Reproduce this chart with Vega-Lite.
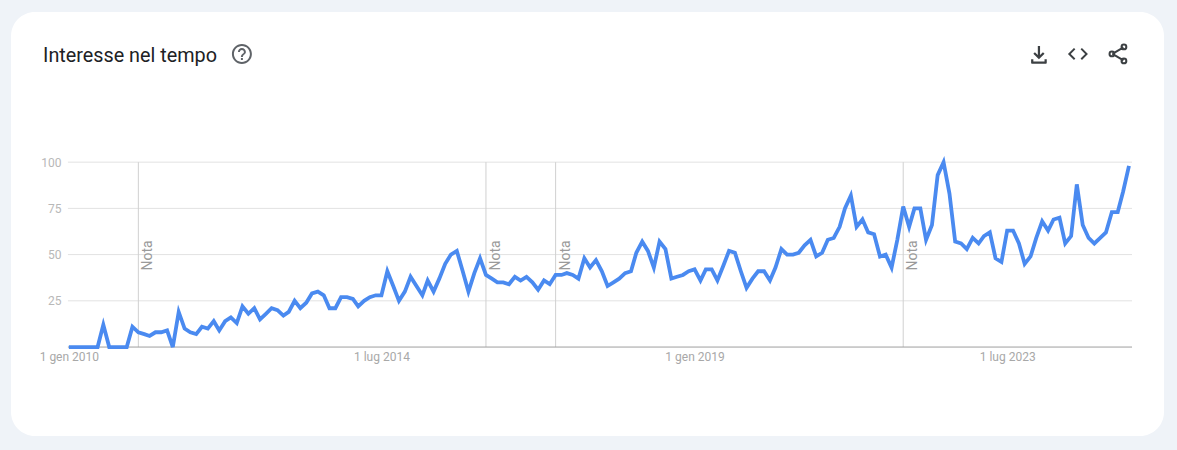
{"$schema":"https://vega.github.io/schema/vega-lite/v6.json","width":1153,"height":424,"padding":{"left":11,"top":12,"right":13,"bottom":14},"autosize":"none","background":"#eff3f8","config":{"view":{"fill":"#ffffff","stroke":null,"cornerRadius":24},"font":"Roboto","axis":{"title":null,"grid":false,"ticks":false,"domain":false,"labelFontSize":12,"labelFont":"Roboto","labelOverlap":false,"labelFlush":false,"labelBound":false},"axisX":{"labelPadding":-85,"labelColor":"#a8a8a8"},"axisY":{"labelPadding":-50,"labelColor":"#b8b8b8","labelAlign":"right"}},"title":{"text":"Interesse nel tempo","anchor":"start","frame":"group","offset":-54,"dx":32,"font":"Roboto","fontSize":19.8,"fontWeight":400,"color":"#202124"},"datasets":{"trend":[{"d":"2010-01-01","v":0},{"d":"2010-02-01","v":0},{"d":"2010-03-01","v":0},{"d":"2010-04-01","v":0},{"d":"2010-05-01","v":0},{"d":"2010-06-01","v":0},{"d":"2010-07-01","v":12},{"d":"2010-08-01","v":0},{"d":"2010-09-01","v":0},{"d":"2010-10-01","v":0},{"d":"2010-11-01","v":0},{"d":"2010-12-01","v":11},{"d":"2011-01-01","v":8},{"d":"2011-02-01","v":7},{"d":"2011-03-01","v":6},{"d":"2011-04-01","v":8},{"d":"2011-05-01","v":8},{"d":"2011-06-01","v":9},{"d":"2011-07-01","v":0},{"d":"2011-08-01","v":19},{"d":"2011-09-01","v":10},{"d":"2011-10-01","v":8},{"d":"2011-11-01","v":7},{"d":"2011-12-01","v":11},{"d":"2012-01-01","v":10},{"d":"2012-02-01","v":14},{"d":"2012-03-01","v":9},{"d":"2012-04-01","v":14},{"d":"2012-05-01","v":16},{"d":"2012-06-01","v":13},{"d":"2012-07-01","v":22},{"d":"2012-08-01","v":18},{"d":"2012-09-01","v":21},{"d":"2012-10-01","v":15},{"d":"2012-11-01","v":18},{"d":"2012-12-01","v":21},{"d":"2013-01-01","v":20},{"d":"2013-02-01","v":17},{"d":"2013-03-01","v":19},{"d":"2013-04-01","v":25},{"d":"2013-05-01","v":21},{"d":"2013-06-01","v":24},{"d":"2013-07-01","v":29},{"d":"2013-08-01","v":30},{"d":"2013-09-01","v":28},{"d":"2013-10-01","v":21},{"d":"2013-11-01","v":21},{"d":"2013-12-01","v":27},{"d":"2014-01-01","v":27},{"d":"2014-02-01","v":26},{"d":"2014-03-01","v":22},{"d":"2014-04-01","v":25},{"d":"2014-05-01","v":27},{"d":"2014-06-01","v":28},{"d":"2014-07-01","v":28},{"d":"2014-08-01","v":41},{"d":"2014-09-01","v":33},{"d":"2014-10-01","v":25},{"d":"2014-11-01","v":30},{"d":"2014-12-01","v":38},{"d":"2015-01-01","v":33},{"d":"2015-02-01","v":28},{"d":"2015-03-01","v":36},{"d":"2015-04-01","v":30},{"d":"2015-05-01","v":37},{"d":"2015-06-01","v":45},{"d":"2015-07-01","v":50},{"d":"2015-08-01","v":52},{"d":"2015-09-01","v":41},{"d":"2015-10-01","v":30},{"d":"2015-11-01","v":40},{"d":"2015-12-01","v":48},{"d":"2016-01-01","v":39},{"d":"2016-02-01","v":37},{"d":"2016-03-01","v":35},{"d":"2016-04-01","v":35},{"d":"2016-05-01","v":34},{"d":"2016-06-01","v":38},{"d":"2016-07-01","v":36},{"d":"2016-08-01","v":38},{"d":"2016-09-01","v":35},{"d":"2016-10-01","v":31},{"d":"2016-11-01","v":36},{"d":"2016-12-01","v":34},{"d":"2017-01-01","v":39},{"d":"2017-02-01","v":39},{"d":"2017-03-01","v":40},{"d":"2017-04-01","v":39},{"d":"2017-05-01","v":37},{"d":"2017-06-01","v":48},{"d":"2017-07-01","v":43},{"d":"2017-08-01","v":47},{"d":"2017-09-01","v":41},{"d":"2017-10-01","v":33},{"d":"2017-11-01","v":35},{"d":"2017-12-01","v":37},{"d":"2018-01-01","v":40},{"d":"2018-02-01","v":41},{"d":"2018-03-01","v":51},{"d":"2018-04-01","v":57},{"d":"2018-05-01","v":52},{"d":"2018-06-01","v":43},{"d":"2018-07-01","v":57},{"d":"2018-08-01","v":53},{"d":"2018-09-01","v":37},{"d":"2018-10-01","v":38},{"d":"2018-11-01","v":39},{"d":"2018-12-01","v":41},{"d":"2019-01-01","v":42},{"d":"2019-02-01","v":36},{"d":"2019-03-01","v":42},{"d":"2019-04-01","v":42},{"d":"2019-05-01","v":36},{"d":"2019-06-01","v":44},{"d":"2019-07-01","v":52},{"d":"2019-08-01","v":51},{"d":"2019-09-01","v":41},{"d":"2019-10-01","v":32},{"d":"2019-11-01","v":37},{"d":"2019-12-01","v":41},{"d":"2020-01-01","v":41},{"d":"2020-02-01","v":36},{"d":"2020-03-01","v":43},{"d":"2020-04-01","v":53},{"d":"2020-05-01","v":50},{"d":"2020-06-01","v":50},{"d":"2020-07-01","v":51},{"d":"2020-08-01","v":55},{"d":"2020-09-01","v":58},{"d":"2020-10-01","v":49},{"d":"2020-11-01","v":51},{"d":"2020-12-01","v":58},{"d":"2021-01-01","v":59},{"d":"2021-02-01","v":65},{"d":"2021-03-01","v":75},{"d":"2021-04-01","v":82},{"d":"2021-05-01","v":65},{"d":"2021-06-01","v":69},{"d":"2021-07-01","v":62},{"d":"2021-08-01","v":61},{"d":"2021-09-01","v":49},{"d":"2021-10-01","v":50},{"d":"2021-11-01","v":43},{"d":"2021-12-01","v":58},{"d":"2022-01-01","v":76},{"d":"2022-02-01","v":65},{"d":"2022-03-01","v":75},{"d":"2022-04-01","v":75},{"d":"2022-05-01","v":58},{"d":"2022-06-01","v":66},{"d":"2022-07-01","v":93},{"d":"2022-08-01","v":100},{"d":"2022-09-01","v":83},{"d":"2022-10-01","v":57},{"d":"2022-11-01","v":56},{"d":"2022-12-01","v":53},{"d":"2023-01-01","v":59},{"d":"2023-02-01","v":56},{"d":"2023-03-01","v":60},{"d":"2023-04-01","v":62},{"d":"2023-05-01","v":48},{"d":"2023-06-01","v":46},{"d":"2023-07-01","v":63},{"d":"2023-08-01","v":63},{"d":"2023-09-01","v":56},{"d":"2023-10-01","v":45},{"d":"2023-11-01","v":49},{"d":"2023-12-01","v":59},{"d":"2024-01-01","v":68},{"d":"2024-02-01","v":63},{"d":"2024-03-01","v":69},{"d":"2024-04-01","v":70},{"d":"2024-05-01","v":56},{"d":"2024-06-01","v":60},{"d":"2024-07-01","v":88},{"d":"2024-08-01","v":66},{"d":"2024-09-01","v":59},{"d":"2024-10-01","v":56},{"d":"2024-11-01","v":59},{"d":"2024-12-01","v":62},{"d":"2025-01-01","v":73},{"d":"2025-02-01","v":73},{"d":"2025-03-01","v":84},{"d":"2025-04-01","v":98}],"grid":[{"a":"2009-12-27","b":"2025-04-17","g":25},{"a":"2009-12-27","b":"2025-04-17","g":50},{"a":"2009-12-27","b":"2025-04-17","g":75},{"a":"2009-12-27","b":"2025-04-17","g":100}],"base":[{"a":"2009-12-27","b":"2025-04-17","g":0}],"notes":[{"d":"2011-01-01","y0":0,"y1":100,"t":41.4,"label":"Nota"},{"d":"2016-01-01","y0":0,"y1":100,"t":41.4,"label":"Nota"},{"d":"2017-01-01","y0":0,"y1":100,"t":41.4,"label":"Nota"},{"d":"2022-01-01","y0":0,"y1":100,"t":41.4,"label":"Nota"}]},"layer":[{"data":{"name":"grid"},"mark":{"type":"rule","color":"#e2e2e2","strokeWidth":1},"encoding":{"x":{"field":"a","type":"temporal","scale":{"type":"utc","domain":[{"year":2009,"month":3,"date":3,"utc":true},{"year":2025,"month":10,"date":2,"utc":true}]},"axis":{"values":[{"year":2010,"month":1,"date":1,"utc":true},{"year":2014,"month":7,"date":1,"utc":true},{"year":2019,"month":1,"date":1,"utc":true},{"year":2023,"month":7,"date":1,"utc":true}],"labelExpr":"'1 ' + (utcmonth(datum.value) == 0 ? 'gen' : 'lug') + ' ' + utcyear(datum.value)"}},"x2":{"field":"b"},"y":{"field":"g","type":"quantitative","scale":{"domain":[-48.1,181.2],"nice":false,"zero":false},"axis":{"values":[25,50,75,100]}}}},{"data":{"name":"notes"},"mark":{"type":"rule","color":"#d0d0d0","strokeWidth":1},"encoding":{"x":{"field":"d","type":"temporal"},"y":{"field":"y0","type":"quantitative"},"y2":{"field":"y1"}}},{"data":{"name":"base"},"mark":{"type":"rule","color":"#9e9e9e","strokeWidth":1},"encoding":{"x":{"field":"a","type":"temporal"},"x2":{"field":"b"},"y":{"field":"g","type":"quantitative"}}},{"data":{"name":"notes"},"mark":{"type":"text","angle":270,"align":"left","baseline":"middle","dy":10,"font":"Roboto","fontSize":14,"color":"#9a9a9a"},"encoding":{"x":{"field":"d","type":"temporal"},"y":{"field":"t","type":"quantitative"},"text":{"field":"label"}}},{"data":{"name":"trend"},"mark":{"type":"line","color":"#4a8af0","strokeWidth":3.8,"strokeJoin":"miter"},"encoding":{"x":{"field":"d","type":"temporal"},"y":{"field":"v","type":"quantitative"}}},{"data":{"values":[{"d":"2012-06-28","y":158.5}]},"mark":{"type":"point","filled":true,"size":4,"color":"#5f6368","opacity":1,"shape":"M-1 6h2v-2h-2v2zm1-16c-5.52 0-10 4.48-10 10s4.48 10 10 10 10-4.48 10-10-4.48-10-10-10zm0 18c-4.41 0-8-3.59-8-8s3.59-8 8-8 8 3.59 8 8-3.59 8-8 8zm0-14c-2.21 0-4 1.79-4 4h2c0-1.1.9-2 2-2s2 .9 2 2c0 2-3 1.75-3 5h2c0-2.25 3-2.5 3-5 0-2.21-1.79-4-4-4z"},"encoding":{"x":{"field":"d","type":"temporal"},"y":{"field":"y","type":"quantitative"}}},{"data":{"values":[{"d":"2023-12-15","y":158}]},"mark":{"type":"point","filled":true,"size":5,"color":"#3c4043","opacity":1,"shape":"M0 4l-5-5 1.4-1.4 2.6 2.6V-8h2v8.2l2.6-2.6L5-1l-5 5zM-6 8c-.55 0-1-.45-1-1v-3h2v2h10v-2h2v3c0 .55-.45 1-1 1H-6z"},"encoding":{"x":{"field":"d","type":"temporal"},"y":{"field":"y","type":"quantitative"}}},{"data":{"values":[{"d":"2024-07-07","y":158.5}]},"mark":{"type":"point","filled":true,"size":4,"color":"#3c4043","opacity":1,"shape":"M-2.6 4.6L-7.2 0l4.6-4.6L-4-6l-6 6 6 6 1.4-1.4zM2.6 4.6L7.2 0 2.6-4.6 4-6l6 6-6 6-1.4-1.4z"},"encoding":{"x":{"field":"d","type":"temporal"},"y":{"field":"y","type":"quantitative"}}},{"data":{"values":[{"d":"2025-02-02","y":158.5}]},"mark":{"type":"point","filled":false,"size":4,"color":"#3c4043","opacity":1,"strokeWidth":2,"shape":"M-5.5 0L5.5-6.5M-5.5 0L5.5 6.5M8.4-7a2.4 2.4 0 1 1-4.8 0a2.4 2.4 0 1 1 4.8 0zM8.4 7a2.4 2.4 0 1 1-4.8 0a2.4 2.4 0 1 1 4.8 0zM-3.6 0a2.4 2.4 0 1 1-4.8 0a2.4 2.4 0 1 1 4.8 0z"},"encoding":{"x":{"field":"d","type":"temporal"},"y":{"field":"y","type":"quantitative"}}}]}
